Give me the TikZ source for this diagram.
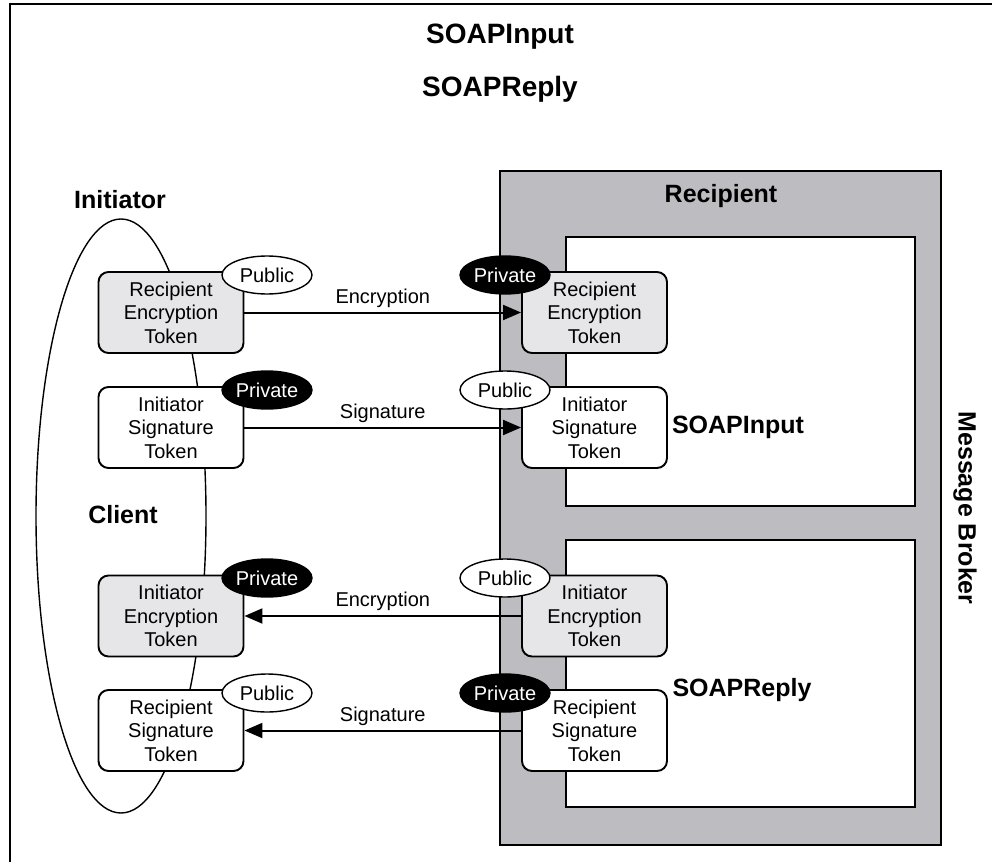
\documentclass[tikz,border=0pt]{standalone}
\usepackage{fontspec}
\setmainfont{Liberation Sans}
\usetikzlibrary{arrows.meta, positioning, shapes.geometric}
\definecolor{brokergray}{RGB}{189,189,193}
\definecolor{tokengray}{RGB}{230,230,232}
\tikzset{
  tokenbox/.style={draw, line width=1.9pt, rounded corners=10pt, fill=white,
    minimum width=145pt, minimum height=81pt, inner sep=0pt, align=center,
    font=\fontsize{20}{23.5}\selectfont},
  graytoken/.style={tokenbox, fill=tokengray},
  pubkey/.style={ellipse, draw, line width=1.4pt, fill=white, minimum width=90pt,
    minimum height=38pt, inner sep=0pt, font=\fontsize{20}{24}\selectfont},
  privkey/.style={pubkey, fill=black, text=white},
  boldlabel/.style={font=\fontsize{25}{30}\selectfont\bfseries},
  sendarrow/.style={line width=2pt, -{Triangle[length=18pt,width=15pt]}},
  arrowtext/.style={font=\fontsize{20}{24}\selectfont, above=1pt}
}
\begin{document}
\begin{tikzpicture}[x=1pt, y=-1pt]
  \useasboundingbox (0,0) rectangle (992,861);
  % Outer frame (only top and left edges show)
  \draw[line width=2.2pt] (10,870) |- (1000,4);
  % Titles
  \node[boldlabel, font=\fontsize{28}{32}\selectfont\bfseries] (titleIn) at (500,37) {SOAPInput};
  \node[boldlabel, font=\fontsize{28}{32}\selectfont\bfseries] (titleRe) at (500,89) {SOAPReply};
  % Message broker
  \draw[line width=2pt, fill=brokergray] (500,171) rectangle (941,845);
  \draw[line width=2pt, fill=white] (566,237) rectangle (915,506);
  \draw[line width=2pt, fill=white] (566,540) rectangle (915,807);
  \node[boldlabel] (recipient) at (721,196) {Recipient};
  \node[boldlabel] (flowIn) at (738,427) {SOAPInput};
  \node[boldlabel] (flowRe) at (742,690) {SOAPReply};
  \node[boldlabel, rotate=-90] (broker) at (965,508) {Message Broker};
  % Client
  \draw[line width=1.4pt] (121,516) ellipse [x radius=85, y radius=297];
  \node[boldlabel] (initiator) at (120,200) {Initiator};
  \node[boldlabel] (client) at (123,515) {Client};
  % Tokens on the client side
  \node[graytoken] (recEncL) at (171,312.5) {Recipient\\Encryption\\Token};
  \node[tokenbox] (initSigL) at (171,427.5) {Initiator\\Signature\\Token};
  \node[graytoken] (initEncL) at (171,616) {Initiator\\Encryption\\Token};
  \node[tokenbox] (recSigL) at (171,730.5) {Recipient\\Signature\\Token};
  % Tokens on the broker side
  \node[graytoken] (recEncR) at (594.5,312.5) {Recipient\\Encryption\\Token};
  \node[tokenbox] (initSigR) at (594.5,427.5) {Initiator\\Signature\\Token};
  \node[graytoken] (initEncR) at (594.5,616) {Initiator\\Encryption\\Token};
  \node[tokenbox] (recSigR) at (594.5,730.5) {Recipient\\Signature\\Token};
  % Messages
  \draw[sendarrow] (recEncL) -- node[arrowtext] {Encryption} (recEncR);
  \draw[sendarrow] (initSigL) -- node[arrowtext] {Signature} (initSigR);
  \draw[sendarrow] (initEncR) -- node[arrowtext] {Encryption} (initEncL);
  \draw[sendarrow] (recSigR) -- node[arrowtext] {Signature} (recSigL);
  % Keys
  \node[pubkey] (recEncLkey) at (267,275) {Public};
  \node[privkey] (initSigLkey) at (267,390) {Private};
  \node[privkey] (initEncLkey) at (267,578) {Private};
  \node[pubkey] (recSigLkey) at (267,693) {Public};
  \node[privkey] (recEncRkey) at (505,275) {Private};
  \node[pubkey] (initSigRkey) at (505,390) {Public};
  \node[pubkey] (initEncRkey) at (505,578) {Public};
  \node[privkey] (recSigRkey) at (505,693) {Private};
\end{tikzpicture}
\end{document}
